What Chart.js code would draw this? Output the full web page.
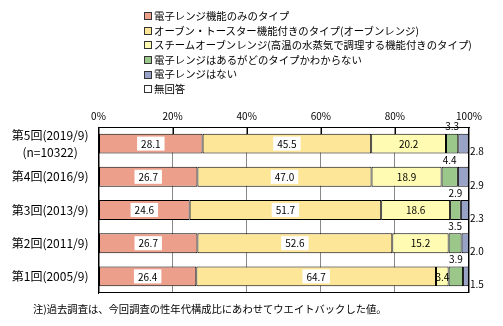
<!DOCTYPE html>
<html lang="ja">
<head>
<meta charset="utf-8">
<script src="https://cdn.jsdelivr.net/npm/chart.js@4"></script>
<style>
    body { margin: 0; background: #fff; }
    #wrap { position: relative; width: 503px; height: 326px; font-family: 'Noto Sans CJK JP', sans-serif; color: #000; }
    #legend { position: absolute; left: 144px; top: 9px; font-size: 10.4px; line-height: 14.6px; }
    #legend .item { white-space: nowrap; display: flex; align-items: center; }
    #legend .box { width: 6px; height: 6px; border: 1px solid #333; margin-right: 2px; }
    #note { position: absolute; left: 33px; top: 301px; font-size: 10.3px; white-space: nowrap; }
</style>
</head>
<body>
<div id="wrap">
    <canvas id="chart" width="503" height="326"></canvas>
    <div id="legend"></div>
    <div id="note">注)過去調査は、今回調査の性年代構成比にあわせてウエイトバックした値。</div>
</div>
<script>
// ─── Data ───────────────────────────────────────────────────
const rounds = [
    ['第5回(2019/9)', '(n=10322)'],
    '第4回(2016/9)',
    '第3回(2013/9)',
    '第2回(2011/9)',
    '第1回(2005/9)'
];
const seriesNames = [
    '電子レンジ機能のみのタイプ',
    'オーブン・トースター機能付きのタイプ(オーブンレンジ)',
    'スチームオーブンレンジ(高温の水蒸気で調理する機能付きのタイプ)',
    '電子レンジはあるがどのタイプかわからない',
    '電子レンジはない',
    '無回答'
];
const microOnly   = [28.1, 26.7, 24.6, 26.7, 26.4];
const ovenRange   = [45.5, 47.0, 51.7, 52.6, 64.7];
const steamOven   = [20.2, 18.9, 18.6, 15.2, 3.4];
const unknownType = [3.3, 4.4, 2.9, 3.5, 3.9];
const noMicro     = [2.8, 2.9, 2.3, 2.0, 1.5];
const noAnswer    = [0.1, 0.1, 0.0, 0.0, 0.1];
const xTicks = [0, 20, 40, 60, 80, 100];

const COLORS = ['#eca08b', '#fee699', '#fffbb3', '#9cc78b', '#98a2c7', '#ffffff'];
const FONT = "'Noto Sans CJK JP', sans-serif";

Chart.defaults.font.family = FONT;
Chart.defaults.color = '#000';

// ─── Legend (html) ──────────────────────────────────────────
const legendEl = document.getElementById('legend');
seriesNames.forEach((name, i) => {
    const item = document.createElement('div');
    item.className = 'item';
    item.innerHTML = `<span class="box" style="background:${COLORS[i]}"></span><span>${name}</span>`;
    legendEl.appendChild(item);
});

// ─── Plugins ────────────────────────────────────────────────
const frame = {
    id: 'frame',
    afterDatasetsDraw(chart) {
        const { ctx, chartArea: a, scales: { x } } = chart;
        ctx.save();
        ctx.strokeStyle = '#000';
        ctx.lineWidth = 1;
        ctx.strokeRect(a.left + 0.5, a.top + 0.5, a.width - 1, a.height - 1);
        // short inward ticks under the top border
        xTicks.slice(1, -1).forEach(v => {
            const px = Math.round(x.getPixelForValue(v)) + 0.5;
            ctx.beginPath();
            ctx.moveTo(px, a.top);
            ctx.lineTo(px, a.top + 7);
            ctx.stroke();
        });
        ctx.restore();
    }
};

const valueLabels = {
    id: 'valueLabels',
    afterDatasetsDraw(chart) {
        const { ctx, chartArea: a } = chart;
        ctx.save();
        ctx.font = '10px ' + FONT;
        ctx.textBaseline = 'middle';
        chart.data.datasets.forEach((ds, di) => {
            if (di > 4) return;
            chart.getDatasetMeta(di).data.forEach((bar, i) => {
                const v = ds.data[i];
                const { x, base, y, height } = bar.getProps(['x', 'base', 'y', 'height'], true);
                const txt = v.toFixed(1);
                const w = ctx.measureText(txt).width;
                if (di <= 2) {
                    const cx = (x + base) / 2;
                    if (di < 2) {
                        ctx.fillStyle = '#fff';
                        ctx.fillRect(cx - w / 2 - 4, y - 7, w + 8, 14);
                    }
                    ctx.fillStyle = '#000';
                    ctx.textAlign = 'center';
                    ctx.fillText(txt, cx, y + 0.5);
                } else if (di === 3) {
                    ctx.fillStyle = '#000';
                    ctx.textAlign = 'center';
                    ctx.fillText(txt, (x + base) / 2, y - height / 2 - 7);
                } else {
                    ctx.fillStyle = '#000';
                    ctx.textAlign = 'left';
                    ctx.fillText(txt, a.right + 1, y + 8);
                }
            });
        });
        ctx.restore();
    }
};

// ─── Chart ──────────────────────────────────────────────────
const seriesData = [microOnly, ovenRange, steamOven, unknownType, noMicro, noAnswer];

new Chart(document.getElementById('chart'), {
    type: 'bar',
    data: {
        labels: rounds,
        datasets: seriesData.map((d, i) => ({
            label: seriesNames[i],
            data: d,
            backgroundColor: COLORS[i],
            borderColor: '#000',
            borderWidth: i === 5 ? 0 : 1,
            borderSkipped: false,
            barPercentage: 0.6,
            categoryPercentage: 1
        }))
    },
    options: {
        indexAxis: 'y',
        responsive: false,
        animation: false,
        layout: { padding: { left: 0, right: 34, top: 107, bottom: 33 } },
        plugins: { legend: { display: false }, tooltip: { enabled: false } },
        scales: {
            x: {
                position: 'top', stacked: true, min: 0, max: 100,
                afterFit: s => { s.height = 20; },
                afterBuildTicks: s => { s.ticks = xTicks.map(v => ({ value: v })); },
                grid: { color: '#888', drawTicks: false },
                border: { color: '#000' },
                ticks: { padding: 5, font: { size: 10 }, color: '#000', callback: v => v + '%' }
            },
            y: {
                stacked: true,
                afterFit: s => { s.width = 98.5; },
                grid: { display: false, drawTicks: false },
                border: { color: '#000' },
                ticks: { autoSkip: false, padding: 10, crossAlign: 'center', font: { size: 12, lineHeight: 1.4 }, color: '#000' }
            }
        }
    },
    plugins: [frame, valueLabels]
});
</script>
</body>
</html>
